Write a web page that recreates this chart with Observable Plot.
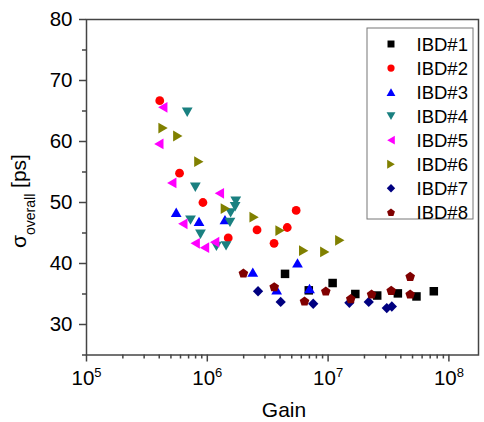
<!DOCTYPE html>
<html><head><meta charset="utf-8">
<script src="https://cdn.jsdelivr.net/npm/d3@7"></script>
<script src="https://cdn.jsdelivr.net/npm/@observablehq/plot@0.6"></script>
<style>body{margin:0;background:#fff;} #chart{width:484px;height:422px;}</style>
</head><body><div id="chart"></div>
<script>
// ---- data ----
const seriesNames = ["IBD#1","IBD#2","IBD#3","IBD#4","IBD#5","IBD#6","IBD#7","IBD#8"];
const seriesColors = ["#000000","#ff0000","#0000ff","#1a8080","#ff00ff","#808000","#000080","#800000"];

const ibd1Gain  = [4.40e6, 6.92e6, 1.09e7, 1.68e7, 2.55e7, 3.78e7, 5.39e7, 7.50e7];
const ibd1Sigma = [38.3, 35.6, 36.8, 35.0, 34.75, 35.1, 34.6, 35.45];
const ibd2Gain  = [4.04e5, 5.89e5, 9.2e5, 1.49e6, 2.58e6, 3.57e6, 4.59e6, 5.44e6];
const ibd2Sigma = [66.7, 54.8, 50.0, 44.2, 45.5, 43.3, 45.9, 48.7];
const ibd3Gain  = [5.53e5, 8.54e5, 1.40e6, 2.38e6, 3.75e6, 5.58e6, 7.02e6];
const ibd3Sigma = [48.4, 46.9, 47.2, 38.6, 35.7, 40.1, 35.9];
const ibd4Gain  = [6.82e5, 7.96e5, 7.26e5, 8.78e5, 1.72e6, 1.70e6, 1.56e6, 1.54e6, 1.19e6, 1.43e6];
const ibd4Sigma = [64.8, 52.5, 47.1, 44.8, 50.2, 49.3, 48.3, 46.75, 42.8, 42.9];
const ibd5Gain  = [4.28e5, 3.97e5, 5.08e5, 1.26e6, 6.27e5, 7.94e5, 9.48e5, 1.15e6];
const ibd5Sigma = [65.6, 59.6, 53.2, 51.5, 46.5, 43.3, 42.6, 43.5];
const ibd6Gain  = [4.30e5, 5.70e5, 8.51e5, 1.41e6, 2.44e6, 4.00e6, 6.28e6, 9.39e6, 1.25e7];
const ibd6Sigma = [62.2, 60.9, 56.7, 49.0, 47.6, 45.4, 42.1, 41.9, 43.8];
const ibd7Gain  = [2.63e6, 4.05e6, 7.53e6, 1.50e7, 2.17e7, 3.06e7, 3.37e7];
const ibd7Sigma = [35.45, 33.7, 33.4, 33.55, 33.7, 32.7, 32.95];
const ibd8Gain  = [1.99e6, 3.58e6, 6.38e6, 9.57e6, 1.54e7, 2.29e7, 3.33e7, 4.78e7, 4.78e7];
const ibd8Sigma = [38.45, 36.2, 33.85, 35.5, 34.25, 35.0, 35.6, 37.9, 35.0];

const yMajorTicks = [30, 40, 50, 60, 70, 80];
const yMinorTicks = [25, 35, 45, 55, 65, 75];
const xMajorTicks = [1e5, 1e6, 1e7, 1e8];
const xMinorTicks = [1e5, 1e6, 1e7].flatMap(d => [2,3,4,5,6,7,8,9].map(k => k * d));
const xLabel = "Gain";

// ---- symbols (bbox-centred) ----
function triangle(angle) {
  return {draw(ctx, size) {
    const R = Math.sqrt(size / 1.299);
    const h = 1.5 * R, w = Math.sqrt(3) * R;
    let pts = [[0, -h/2], [w/2, h/2], [-w/2, h/2]];
    const a = angle * Math.PI / 180, c = Math.cos(a), s = Math.sin(a);
    pts = pts.map(([x, y]) => [x*c - y*s, x*s + y*c]);
    ctx.moveTo(pts[0][0], pts[0][1]);
    ctx.lineTo(pts[1][0], pts[1][1]);
    ctx.lineTo(pts[2][0], pts[2][1]);
    ctx.closePath();
  }};
}
const diamond = {draw(ctx, size) {
  const d = Math.sqrt(size / 2);
  ctx.moveTo(0, -d); ctx.lineTo(d, 0); ctx.lineTo(0, d); ctx.lineTo(-d, 0); ctx.closePath();
}};
const pentagon = {draw(ctx, size) {
  const R = Math.sqrt(size / 2.378);
  for (let k = 0; k < 5; ++k) {
    const a = (-90 + 72 * k) * Math.PI / 180;
    const x = R * Math.cos(a), y = R * Math.sin(a) + R * 0.1;
    k ? ctx.lineTo(x, y) : ctx.moveTo(x, y);
  }
  ctx.closePath();
}};
const seriesSymbols = [d3.symbolSquare, d3.symbolCircle, triangle(0), triangle(180), triangle(-90), triangle(90), diamond, pentagon];
const seriesR = [4.8, 4.4, 4.0, 4.0, 4.0, 4.0, 4.1, 4.4];

const gains = [ibd1Gain, ibd2Gain, ibd3Gain, ibd4Gain, ibd5Gain, ibd6Gain, ibd7Gain, ibd8Gain];
const sigmas = [ibd1Sigma, ibd2Sigma, ibd3Sigma, ibd4Sigma, ibd5Sigma, ibd6Sigma, ibd7Sigma, ibd8Sigma];
const tables = gains.map((g, i) => g.map((v, j) => ({gain: v, sigma: sigmas[i][j], series: seriesNames[i]})));

const font = "'Liberation Sans', Arial, sans-serif";
const axisColor = "#444";

const plot = Plot.plot({
  width: 484, height: 422,
  marginLeft: 86, marginRight: 6, marginTop: 19, marginBottom: 67.5,
  style: {fontFamily: font, fontSize: "20.5px", color: "#000", background: "#fff"},
  x: {type: "log", domain: [1e5, 1.758e8]},
  y: {domain: [25, 80]},
  marks: [
    Plot.axisY(yMajorTicks, {tickSize: 7, tickPadding: 7, label: null, stroke: axisColor, strokeWidth: 1.5, fontSize: 20.5}),
    Plot.axisY(yMinorTicks, {tickSize: 4, tickFormat: () => "", label: null, stroke: axisColor, strokeWidth: 1.5}),
    Plot.axisX(xMajorTicks, {tickSize: 7, tickPadding: 8, label: null, stroke: axisColor, strokeWidth: 1.5, fontSize: 20.5, tickFormat: d => String(Math.round(Math.log10(d)))}),
    Plot.axisX(xMinorTicks, {tickSize: 4, tickFormat: () => "", label: null, stroke: axisColor, strokeWidth: 1.5}),
    Plot.frame({stroke: axisColor, strokeWidth: 1.5}),
    ...tables.map((t, i) => Plot.dot(t, {x: "gain", y: "sigma", symbol: seriesSymbols[i], r: seriesR[i], fill: seriesColors[i], stroke: "none"}))
  ]
});

const svg = d3.select(plot);
// superscript tick labels 10^n
svg.selectAll('g[aria-label="x-axis tick label"] text').each(function() {
  const t = d3.select(this);
  const e = t.text();
  if (!e) return;
  t.text("10");
  t.append("tspan").attr("dy", "-8px").attr("font-size", "13px").text(e);
});
// x title
svg.append("text").attr("x", 284).attr("y", 417).attr("text-anchor", "middle")
  .attr("font-family", font).attr("font-size", "21px").attr("fill", "#000").text(xLabel);
// y title
const yt = svg.append("text").attr("transform", "translate(26,201) rotate(-90)")
  .attr("text-anchor", "middle").attr("font-family", font).attr("fill", "#000").attr("font-size", "21px");
yt.append("tspan").text("σ");
yt.append("tspan").attr("font-size", "14px").attr("dy", "9px").text("overall");
yt.append("tspan").attr("dy", "-9px").text(" [ps]");

// legend
const lg = svg.append("g");
lg.append("rect").attr("x", 367).attr("y", 28).attr("width", 106).attr("height", 191)
  .attr("fill", "#fff").attr("stroke", "#777").attr("stroke-width", 1);
seriesNames.forEach((name, i) => {
  const y = 44 + i * 24.05;
  const sz = Math.PI * Math.pow(seriesR[i] * 0.82, 2);
  lg.append("path").attr("d", d3.symbol(seriesSymbols[i], sz)()).attr("transform", `translate(391,${y})`).attr("fill", seriesColors[i]);
  lg.append("text").attr("x", 416.5).attr("y", y).attr("dy", "0.36em").attr("text-anchor", "start").attr("font-family", font)
    .attr("font-size", "18.5px").attr("fill", "#000").text(name);
});

document.getElementById("chart").appendChild(plot);
</script>
</body></html>
